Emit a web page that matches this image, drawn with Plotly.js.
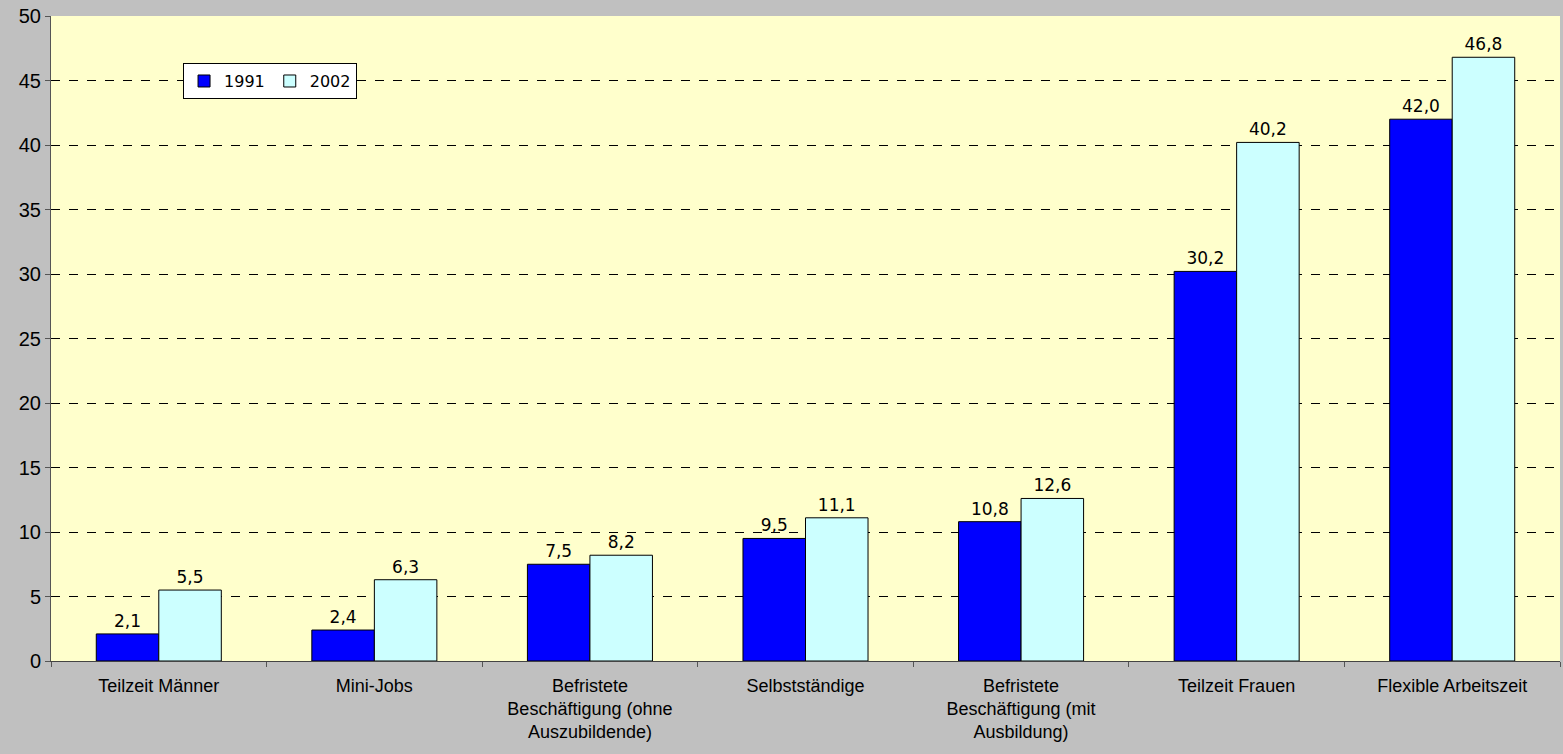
<!DOCTYPE html>
<html><head><meta charset="utf-8">
<script src="https://cdn.plot.ly/plotly-3.0.1.min.js"></script>
<style>html,body{margin:0;padding:0;background:#C0C0C0;}#chart{width:1563px;height:754px;}</style>
</head><body><div id="chart"></div>
<script>
const categories = ["Teilzeit Männer","Mini-Jobs","Befristete<br>Beschäftigung (ohne<br>Auszubildende)","Selbstständige","Befristete<br>Beschäftigung (mit<br>Ausbildung)","Teilzeit Frauen","Flexible Arbeitszeit"];
const values1991 = [2.1,2.4,7.5,9.5,10.8,30.2,42.0];
const values2002 = [5.5,6.3,8.2,11.1,12.6,40.2,46.8];
const yTicks = [0,5,10,15,20,25,30,35,40,45,50];

const labelFont = {family:"DejaVu Sans, Tahoma, sans-serif", size:17, color:"#000"};
const traces = [
  {type:"bar", name:"1991", x:categories, y:values1991, marker:{color:"#0000FF", line:{color:"#000", width:1}},
   text:values1991, texttemplate:"%{y:.1f}", textposition:"outside", textfont:labelFont, cliponaxis:false},
  {type:"bar", name:"2002", x:categories, y:values2002, marker:{color:"#CCFFFF", line:{color:"#000", width:1}},
   text:values2002, texttemplate:"%{y:.1f}", textposition:"outside", textfont:labelFont, cliponaxis:false}
];
const layout = {
  width:1563, height:754,
  paper_bgcolor:"#C0C0C0", plot_bgcolor:"#FFFFCC",
  margin:{l:51, r:3, t:16, b:93},
  separators:",.",
  barmode:"group", bargap:0.42, bargroupgap:0,
  showlegend:true,
  legend:{orientation:"h", x:0.0875, y:0.927, xanchor:"left", yanchor:"top",
    bgcolor:"#FFFFFF", bordercolor:"#000", borderwidth:1,
    font:{family:"DejaVu Sans, Tahoma, sans-serif", size:16, color:"#000"}, itemwidth:30, tracegroupgap:0},
  xaxis:{type:"category", tickson:"boundaries", ticks:"outside", ticklen:5, tickcolor:"#555",
    showline:true, linecolor:"#444", linewidth:1, showgrid:false, ticklabelstandoff:8,
    tickfont:{family:"Liberation Sans, Arial, sans-serif", size:18, color:"#000"}},
  yaxis:{range:[0,50], tickvals:yTicks, ticks:"outside", ticklen:5, tickcolor:"#555",
    showline:true, linecolor:"#555", linewidth:1, zeroline:false,
    showgrid:true, gridcolor:"#000", griddash:"dash", gridwidth:1,
    tickfont:{family:"Liberation Sans, Arial, sans-serif", size:20, color:"#000"}}
};
Plotly.newPlot("chart", traces, layout, {displayModeBar:false});
</script></body></html>
